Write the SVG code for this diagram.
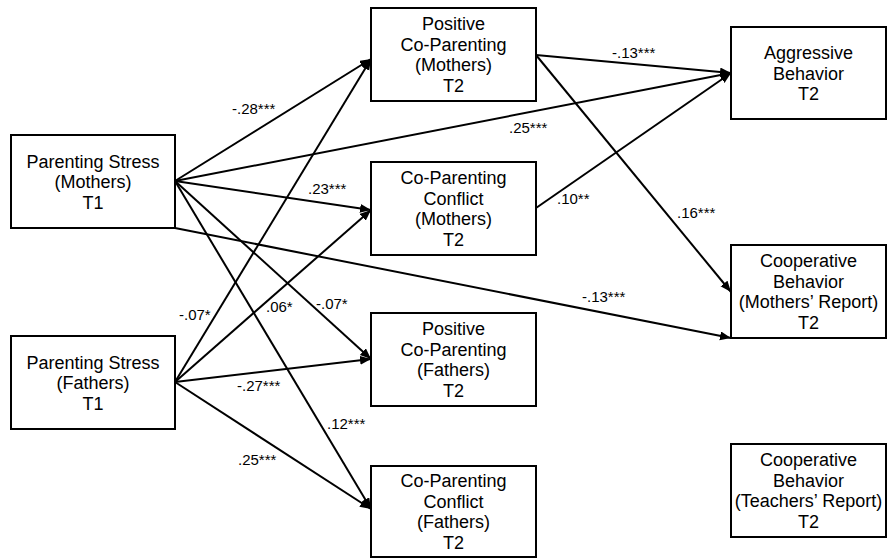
<svg xmlns="http://www.w3.org/2000/svg" width="888" height="558" viewBox="0 0 888 558">
<style>
.box{fill:#fff;stroke:#000;stroke-width:2}
.t{font-family:"Liberation Sans",Arial,sans-serif;font-size:18px;text-anchor:middle;fill:#000}
.e{stroke:#000;stroke-width:2;fill:none;marker-end:url(#ah)}
.l{font-family:"Liberation Sans",Arial,sans-serif;font-size:15px;fill:#000}
</style>
<defs>
<marker id="ah" markerUnits="userSpaceOnUse" markerWidth="12" markerHeight="10" refX="11" refY="4.5" orient="auto">
<path d="M0,0 L11,4.5 L0,9 z" fill="#000"/>
</marker>
</defs>
<rect width="888" height="558" fill="#fff"/>
<g id="connectors">
<line class="e" x1="175" y1="181" x2="371" y2="59"/>
<line class="e" x1="175" y1="181" x2="731" y2="73"/>
<line class="e" x1="175" y1="181" x2="371" y2="210"/>
<line class="e" x1="175" y1="181" x2="371" y2="359"/>
<line class="e" x1="175" y1="181" x2="371" y2="509"/>
<line class="e" x1="175" y1="228" x2="731" y2="338"/>
<line class="e" x1="175" y1="382" x2="371" y2="59"/>
<line class="e" x1="175" y1="382" x2="371" y2="210"/>
<line class="e" x1="175" y1="382" x2="371" y2="359"/>
<line class="e" x1="175" y1="382" x2="371" y2="509"/>
<line class="e" x1="536" y1="55" x2="731" y2="73"/>
<line class="e" x1="536" y1="55" x2="731" y2="292"/>
<line class="e" x1="536" y1="208" x2="731" y2="73"/>
<text class="l" x="232" y="114">-.28***</text>
<text class="l" x="509" y="133">.25***</text>
<text class="l" x="308" y="194">.23***</text>
<text class="l" x="612" y="58">-.13***</text>
<text class="l" x="557" y="204">.10**</text>
<text class="l" x="677" y="218">.16***</text>
<text class="l" x="179" y="320">-.07*</text>
<text class="l" x="266" y="312">.06*</text>
<text class="l" x="316" y="309">-.07*</text>
<text class="l" x="237" y="391">-.27***</text>
<text class="l" x="327" y="429">.12***</text>
<text class="l" x="238" y="465">.25***</text>
<text class="l" x="582" y="302">-.13***</text>
</g>
<g id="ps-mothers">
<rect class="box" x="11" y="135" width="164" height="93"/>
<text class="t" x="93" y="167.5">Parenting Stress</text>
<text class="t" x="93" y="188">(Mothers)</text>
<text class="t" x="93" y="208.5">T1</text>
</g>
<g id="ps-fathers">
<rect class="box" x="11" y="336" width="164" height="93"/>
<text class="t" x="93" y="368.5">Parenting Stress</text>
<text class="t" x="93" y="389">(Fathers)</text>
<text class="t" x="93" y="409.5">T1</text>
</g>
<g id="pcp-mothers">
<rect class="box" x="371" y="8" width="165" height="93"/>
<text class="t" x="453.5" y="30.25">Positive</text>
<text class="t" x="453.5" y="50.75">Co-Parenting</text>
<text class="t" x="453.5" y="71.25">(Mothers)</text>
<text class="t" x="453.5" y="91.75">T2</text>
</g>
<g id="cpc-mothers">
<rect class="box" x="371" y="162" width="165" height="93"/>
<text class="t" x="453.5" y="184.25">Co-Parenting</text>
<text class="t" x="453.5" y="204.75">Conflict</text>
<text class="t" x="453.5" y="225.25">(Mothers)</text>
<text class="t" x="453.5" y="245.75">T2</text>
</g>
<g id="pcp-fathers">
<rect class="box" x="371" y="313" width="165" height="93"/>
<text class="t" x="453.5" y="335.25">Positive</text>
<text class="t" x="453.5" y="355.75">Co-Parenting</text>
<text class="t" x="453.5" y="376.25">(Fathers)</text>
<text class="t" x="453.5" y="396.75">T2</text>
</g>
<g id="cpc-fathers">
<rect class="box" x="371" y="466" width="165" height="91"/>
<text class="t" x="453.5" y="487.25">Co-Parenting</text>
<text class="t" x="453.5" y="507.75">Conflict</text>
<text class="t" x="453.5" y="528.25">(Fathers)</text>
<text class="t" x="453.5" y="548.75">T2</text>
</g>
<g id="aggressive">
<rect class="box" x="731" y="27" width="155" height="92"/>
<text class="t" x="808.5" y="59">Aggressive</text>
<text class="t" x="808.5" y="79.5">Behavior</text>
<text class="t" x="808.5" y="100">T2</text>
</g>
<g id="coop-mothers">
<rect class="box" x="731" y="245" width="155" height="93"/>
<text class="t" x="808.5" y="267.25">Cooperative</text>
<text class="t" x="808.5" y="287.75">Behavior</text>
<text class="t" x="808.5" y="308.25">(Mothers’ Report)</text>
<text class="t" x="808.5" y="328.75">T2</text>
</g>
<g id="coop-teachers">
<rect class="box" x="731" y="444" width="155" height="93"/>
<text class="t" x="808.5" y="466.25">Cooperative</text>
<text class="t" x="808.5" y="486.75">Behavior</text>
<text class="t" x="808.5" y="507.25">(Teachers’ Report)</text>
<text class="t" x="808.5" y="527.75">T2</text>
</g>
</svg>
